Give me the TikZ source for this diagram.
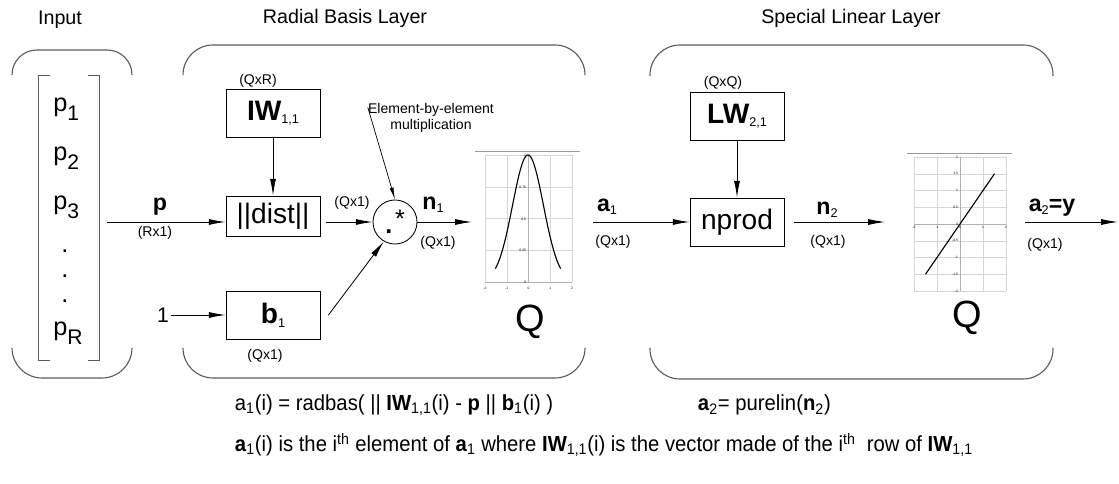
\documentclass[tikz,border=0pt]{standalone}
\usepackage{fontspec}
\setmainfont{Liberation Sans}
\newfontfamily\narrowfont[FakeStretch=0.93]{Liberation Sans}
\usetikzlibrary{arrows.meta,positioning}
\definecolor{braceline}{HTML}{5C5C5C}
\definecolor{gridline}{HTML}{D6D6D6}
\definecolor{plotrule}{HTML}{9A9A9A}
\definecolor{plotaxis}{HTML}{B0B0B0}
\newcommand{\sbs}[2][9]{\raisebox{-0.25ex}{\fontsize{#1}{#1}\selectfont\mdseries #2}}
\newcommand{\entrysub}[1]{\raisebox{-6pt}{\fontsize{15}{15}\selectfont #1}}
\tikzset{
  layerbrace/.style={draw=braceline, line width=0.8pt, rounded corners=0.75cm},
  vecbracket/.style={draw=braceline, line width=0.7pt},
  title/.style={font=\fontsize{14}{16}\selectfont},
  blockbox/.style={draw, line width=0.6pt, minimum width=2.35cm, minimum height=1.2cm,
                   inner sep=0pt, font=\fontsize{20}{24}\selectfont},
  dimtext/.style={font=\fontsize{10}{12}\selectfont, inner sep=1pt},
  sigtext/.style={font=\fontsize{16.5}{18}\selectfont\bfseries, inner sep=1pt},
  vecentry/.style={anchor=base west, font=\fontsize{18}{20}\selectfont, inner sep=0pt},
  bigq/.style={font=\fontsize{27}{30}\selectfont},
  flow/.style={-{Latex[length=0.42cm,width=0.15cm]}, line width=0.6pt},
  leader/.style={-{Latex[length=0.3cm,width=0.1cm]}, line width=0.5pt},
  gridln/.style={draw=gridline, line width=0.3pt},
  axisln/.style={draw=plotaxis, line width=0.3pt},
  ticktext/.style={font=\fontsize{2.4}{3}\selectfont, inner sep=0.5pt},
  eqtext/.style={anchor=west, font=\fontsize{15.5}{18}\selectfont\narrowfont},
}

\begin{document}
\begin{tikzpicture}[x=0.025cm, y=-0.025cm]
  \useasboundingbox (0,0) rectangle (1119,484);

  % --- layer titles ---
  \node[title] (ttlin) at (60,20)  {Input};
  \node[title] (ttlrb) at (345,18) {Radial Basis Layer};
  \node[title] (ttlsl) at (851,18) {Special Linear Layer};

  % --- layer braces ---
  \draw[layerbrace, rounded corners=0.62cm] (12,75) -- (12,50) -- (132,50) -- (132,75);
  \draw[layerbrace] (12,348) -- (12,378) -- (132,378) -- (132,348);
  \draw[layerbrace] (183,75) -- (183,45) -- (585,45) -- (585,75);
  \draw[layerbrace] (183,348) -- (183,378) -- (585,378) -- (585,348);
  \draw[layerbrace] (650,76) -- (650,45) -- (1053,45) -- (1053,76);
  \draw[layerbrace] (650,348) -- (650,379) -- (1053,379) -- (1053,348);

  % --- input vector ---
  \draw[vecbracket] (50,75) -- (38,75) -- (38,360) -- (50,360);
  \draw[vecbracket] (88,75) -- (99,75) -- (99,360) -- (88,360);
  \node[vecentry] (p1) at (53,112) {p\entrysub{1}};
  \node[vecentry] (p2) at (53,161) {p\entrysub{2}};
  \node[vecentry] (p3) at (53,210) {p\entrysub{3}};
  \foreach \yy [count=\i] in {253,278,303}
    \node[vecentry] (vdot\i) at (61,\yy) {.};
  \node[vecentry] (pR) at (53,336) {p\entrysub{R}};

  % --- radial basis layer ---
  \node[blockbox] (iw) at (273,113) {\textbf{IW}\sbs{1,1}};
  \node[blockbox, minimum height=1cm] (dist) at (273,216) {||dist||};
  \node[blockbox] (b1) at (273,315) {\textbf{b}\sbs{1}};
  \node[dimtext] (dimiw) at (258,81) {(QxR)};
  \node[dimtext] (dimb1) at (265,356) {(Qx1)};
  \node[font=\fontsize{15}{18}\selectfont, inner sep=1pt] (one) at (163,315) {1};
  \node[draw, circle, minimum size=1.1cm, line width=0.6pt] (mult) at (395,222) {};
  \node[font=\fontsize{18}{20}\selectfont, inner sep=0pt] (multstar) at (400,219) {*};
  \node[font=\fontsize{18}{20}\selectfont\bfseries, inner sep=0pt] (multdot) at (389,232) {.};
  \node[font=\fontsize{10}{11.4}\selectfont, align=center, inner sep=1pt] (elemnote)
    at (431,118) {Element-by-element\\multiplication};

  \coordinate (pin) at (107,222);
  \draw[flow] (pin) -- (pin -| dist.west);
  \node[sigtext] (sigp) at (160,207) {p};
  \node[dimtext] (dimp) at (155,233) {(Rx1)};
  \draw[flow] (iw) -- (dist);
  \draw[flow] (one) -- (b1);
  \draw[flow, shorten <=4pt] (dist.east |- mult) -- (mult.west);
  \node[dimtext] (dimdist) at (352,203) {(Qx1)};
  \draw[flow] ([xshift=0.2cm]b1.east) -- (mult.240);
  \draw[leader] ([shift={(1pt,-4pt)}]elemnote.north west) -- (mult.north);
  \coordinate (n1end) at (472,222);
  \draw[flow] (mult.east) -- (n1end);
  \node[sigtext] (sign1) at (433,205) {n\sbs{1}};
  \node[dimtext] (dimn1) at (438,243) {(Qx1)};

  % --- radbas transfer plot ---
  \foreach \k in {0,...,4} {
    \draw[gridln] ({485+21.75*\k},155) -- ({485+21.75*\k},282);
    \draw[gridln] (485,{155+31.75*\k}) -- (572,{155+31.75*\k});
  }
  \draw[axisln] (528,155) -- (528,282);
  \draw[axisln] (485,282) -- (572,282);
  \draw[draw=plotrule, line width=0.5pt] (475,151) -- (580,151);
  \draw[line width=0.8pt] plot[domain=-1.5:1.5, samples=60, smooth]
    ({528+21.75*\x},{282-127*exp(0-(\x)*(\x))});
  \foreach \v/\yy [count=\k] in {1/155, 0.75/187, 0.5/219, 0.25/250, 0/282}
    \node[ticktext, anchor=east] (rby\k) at (527,\yy) {\v};
  \foreach \v [count=\k from 0] in {-2,-1,0,1,2}
    \node[ticktext] (rbx\k) at ({485+21.75*\k},288) {\v};
  \node[bigq] (qrb) at (530,322) {Q};

  % --- special linear layer ---
  \node[blockbox] (lw) at (737,116) {\textbf{LW}\sbs{2,1}};
  \node[blockbox] (nprod) at (737,222) {nprod};
  \node[dimtext] (dimlw) at (723,83) {(QxQ)};
  \coordinate (a1start) at (593,222);
  \draw[flow] (a1start) -- (nprod.west);
  \node[sigtext] (siga1) at (607,207) {a\sbs{1}};
  \node[dimtext] (dima1) at (613,242) {(Qx1)};
  \draw[flow] (lw) -- (nprod);
  \coordinate (n2end) at (885,222);
  \draw[flow, shorten <=0.25cm] (nprod.east) -- (n2end);
  \node[sigtext] (sign2) at (827,210) {n\sbs{2}};
  \node[dimtext] (dimn2) at (828,242) {(Qx1)};

  % --- purelin transfer plot ---
  \foreach \k in {0,...,4}
    \draw[gridln] ({914+23*\k},157) -- ({914+23*\k},291);
  \foreach \k in {0,...,8}
    \draw[gridln] (914,{157+16.75*\k}) -- (1006,{157+16.75*\k});
  \draw[axisln] (960,157) -- (960,291);
  \draw[axisln] (914,224) -- (1006,224);
  \draw[draw=plotrule, line width=0.5pt] (907,153) -- (1012,153);
  \draw[line width=0.8pt] (925.5,274.25) -- (994.5,173.75);
  \foreach \v [count=\k from 0] in {2,1.5,1,0.5,0,-0.5,-1,-1.5,-2}
    \node[ticktext, anchor=east] (ply\k) at (959,{157+16.75*\k}) {\v};
  \foreach \v [count=\k from 0] in {-2,-1,0,1,2}
    \node[ticktext, anchor=north] (plx\k) at ({914+23*\k},225) {\v};
  \node[bigq] (qpl) at (967,318) {Q};

  % --- output ---
  \coordinate (outstart) at (1025,222);
  \coordinate (outend) at (1118,222);
  \draw[flow] (outstart) -- (outend);
  \node[sigtext] (siga2) at (1052,208) {a\sbs{2}=y};
  \node[dimtext] (dima2) at (1045,245) {(Qx1)};

  % --- equations ---
  \node[eqtext] (eqrb) at (230,405)
    {a\textsubscript{1}(i) = radbas( || \textbf{IW}\textsubscript{1,1}(i) - \textbf{p} || \textbf{b}\textsubscript{1}(i) )};
  \node[eqtext] (eqsl) at (693,405)
    {\textbf{a}\textsubscript{2}= purelin(\textbf{n}\textsubscript{2})};
  \node[eqtext] (eqnote) at (230,445)
    {\textbf{a}\textsubscript{1}(i) is the i\textsuperscript{th} element of \textbf{a}\textsubscript{1} where \textbf{IW}\textsubscript{1,1}(i) is the vector made of the i\textsuperscript{th}\ \ row of \textbf{IW}\textsubscript{1,1}};
\end{tikzpicture}
\end{document}
